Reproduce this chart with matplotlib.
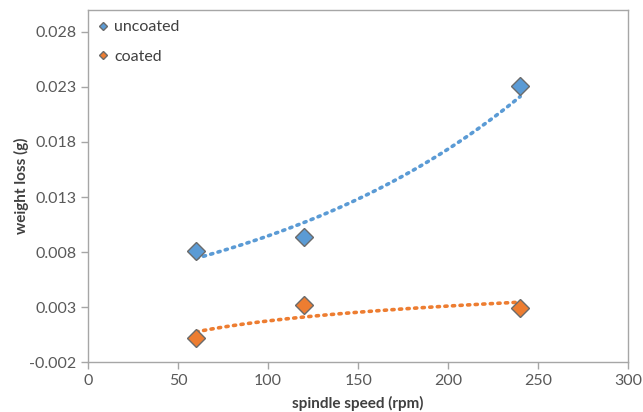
import numpy as np
import matplotlib.pyplot as plt

plt.rcParams['font.family'] = ['Lato', 'DejaVu Sans']

speed = [60, 120, 240]
uncoated = [0.0081, 0.0094, 0.0231]
coated = [0.0002, 0.0032, 0.0029]

x_ticks = [0, 50, 100, 150, 200, 250, 300]
y_ticks = [-0.002, 0.003, 0.008, 0.013, 0.018, 0.023, 0.028]

BLUE = '#5B9BD5'
ORANGE = '#ED7D31'
GRAY = '#595959'


def main():
    fig = plt.figure(figsize=(6.43, 4.12), dpi=100)
    ax = fig.add_axes([0.137, 0.121, 0.840, 0.855])

    x = np.array(speed, dtype=float)
    xs = np.linspace(x.min(), x.max(), 100)

    # excel style trendlines: exponential for uncoated, logarithmic for coated
    b, a = np.polyfit(x, np.log(uncoated), 1)
    ax.plot(xs, np.exp(a + b * xs), linestyle=(0, (0.6, 1.5)), lw=2.6,
            color=BLUE, dash_capstyle='round', zorder=2)
    b, a = np.polyfit(np.log(x), coated, 1)
    ax.plot(xs, a + b * np.log(xs), linestyle=(0, (0.6, 1.5)), lw=2.6,
            color=ORANGE, dash_capstyle='round', zorder=2)

    ax.plot(speed, uncoated, 'D', ms=9, color=BLUE, mec='#6b6b6b', mew=1,
            label='uncoated', zorder=3)
    ax.plot(speed, coated, 'D', ms=9, color=ORANGE, mec='#6b6b6b', mew=1,
            label='coated', zorder=3)

    ax.set_xlim(0, 300)
    ax.set_ylim(-0.002, 0.030)
    ax.set_xticks(x_ticks)
    ax.set_yticks(y_ticks)
    ax.set_yticklabels([f"{v:.3f}" for v in y_ticks])

    for s in ax.spines.values():
        s.set_color('#a6a6a6')
        s.set_linewidth(1)
    ax.tick_params(colors='#a6a6a6', labelcolor=GRAY, labelsize=11.5,
                   length=5, width=1)

    ax.set_xlabel('spindle speed (rpm)', fontsize=11, fontweight='bold',
                  color='#404040', labelpad=6)
    ax.set_ylabel('weight loss (g)', fontsize=11, fontweight='bold',
                  color='#404040', labelpad=0)

    leg = ax.legend(loc='upper left', frameon=False, fontsize=11.5,
                    markerscale=0.45, handlelength=0.6, handletextpad=0.4,
                    labelspacing=0.95, borderaxespad=0.25)
    for t in leg.get_texts():
        t.set_color('#404040')

    plt.savefig('out.png', dpi=100)
    plt.close()


if __name__ == '__main__':
    main()
